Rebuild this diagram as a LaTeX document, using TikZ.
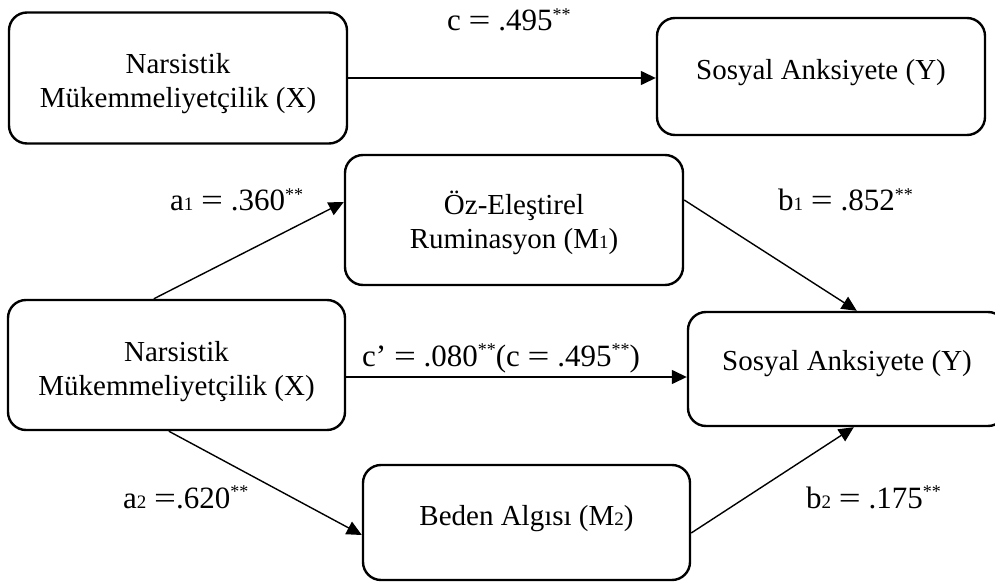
\documentclass[tikz,border=0pt]{standalone}
\usepackage{graphicx}
\usepackage{fontspec}
\setmainfont{Liberation Serif}
\usetikzlibrary{arrows.meta,calc}
\newcommand\sbx[1]{{\fontsize{19}{19}\selectfont #1}}
\newcommand\sig{\raisebox{10.5pt}{\fontsize{18}{18}\selectfont **}}
\newcommand\eqs{\scalebox{1.25}[1]{=}}
\begin{document}
\begin{tikzpicture}[x=1pt,y=-1pt,
 box/.style={draw, line width=2.4pt, rounded corners=18pt, inner sep=0pt},
 txt/.style={inner sep=0pt, anchor=base, font=\fontsize{29}{34}\selectfont},
 lbl/.style={inner sep=0pt, anchor=base west, font=\fontsize{31}{36}\selectfont},
 arr/.style={line width=1.4pt, -{Triangle[length=15pt,width=14pt]}},
]
\useasboundingbox (0,0) rectangle (995,585);
\clip (0,0) rectangle (995,585);
% boxes
\node[box, minimum width=338pt, minimum height=131pt] (X1) at (178,78) {};
\node[box, minimum width=328pt, minimum height=117pt] (Y1) at (821,76.5) {};
\node[box, minimum width=338pt, minimum height=130pt] (M1) at (514,220) {};
\node[box, minimum width=337pt, minimum height=130pt] (X2) at (176.5,365) {};
\node[box, minimum width=318pt, minimum height=114pt] (Y2) at (847,369) {};
\node[box, minimum width=327pt, minimum height=115pt] (M2) at (526.5,522.5) {};
% box texts
\node[txt] (X1a) at (178,74) {Narsistik};
\node[txt] (X1b) at (178,108) {Mükemmeliyetçilik (X)};
\node[txt] (Y1t) at (821,80) {Sosyal Anksiyete (Y)};
\node[txt] (M1a) at (514,215) {Öz-Eleştirel};
\node[txt] (M1b) at (514,249) {Ruminasyon (M\sbx{1})};
\node[txt] (X2a) at (176.5,361) {Narsistik};
\node[txt] (X2b) at (176.5,395) {Mükemmeliyetçilik (X)};
\node[txt] (Y2t) at (847,370) {Sosyal Anksiyete (Y)};
\node[txt] (M2t) at (526.5,525) {Beden Algısı (M\sbx{2})};
% connectors
\draw[arr] (X1.east) -- (X1.east -| Y1.west);
\draw[arr] ($(X2.north west)+(147,0)$) -- ($(M1.west)+(0,-18)$);
\draw[arr] ($(M1.east)+(0,-20)$) -- ($(Y2.north west)+(170,0)$);
\draw[arr] ($(X2.east)+(0,12)$) coordinate (cs) -- (cs -| Y2.west);
\draw[arr] ($(X2.south west)+(162,0)$) -- ($(M2.west)+(0,12.5)$);
\draw[arr] ($(M2.east)+(0,10.5)$) -- ($(Y2.south west)+(167,0)$);
% labels
\node[lbl] (Lc) at (447,31) {c \eqs{} .495\sig};
\node[lbl] (La1) at (170,211) {a\sbx{1} \eqs{} .360\sig};
\node[lbl] (Lb1) at (778,211) {b\sbx{1} \eqs{} .852\sig};
\node[lbl] (Lcp) at (362,366) {c’ \eqs{} .080\sig(c \eqs{} .495\sig)};
\node[lbl] (La2) at (123,508) {a\sbx{2} \eqs.620\sig};
\node[lbl] (Lb2) at (806,508) {b\sbx{2} \eqs{} .175\sig};
\end{tikzpicture}
\end{document}
